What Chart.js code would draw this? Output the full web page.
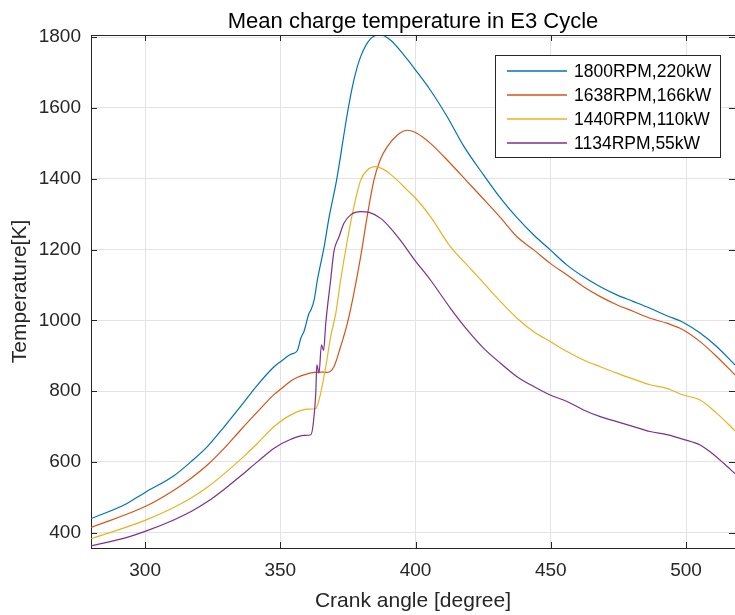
<!DOCTYPE html>
<html>
<head>
<meta charset="utf-8">
<script src="https://cdn.jsdelivr.net/npm/chart.js@4.4.1/dist/chart.umd.min.js"></script>
<style>
  html, body { margin: 0; padding: 0; background: #ffffff; }
  #wrap { width: 735px; height: 615px; }
</style>
</head>
<body>
<div id="wrap"><canvas id="c" width="735" height="615"></canvas></div>
<script>
// ---- Data ----
const chartTitle = 'Mean charge temperature in E3 Cycle';
const xTitle = 'Crank angle [degree]';
const yTitle = 'Temperature[K]';
const seriesLabels = ['1800RPM,220kW', '1638RPM,166kW', '1440RPM,110kW', '1134RPM,55kW'];
const seriesColors = ['#0072BD', '#D95319', '#EDB120', '#7E2F8E'];

const xTickValues = [300, 350, 400, 450, 500];
const yTickValues = [400, 600, 800, 1000, 1200, 1400, 1600, 1800];
const xRange = [280, 518.1];
const yRange = [357, 1806];

const angle1800 = [280,292.4,300,310.8,317,323.1,329.3,335.4,341.6,347.7,350.2,353.9,356.3,357.6,358.8,360.6,361.3,362.5,363.7,366.2,368,370.8,374.8,377.2,379.7,383.4,387.1,390.8,395.7,400,405.5,411.7,417.8,425.2,431.4,437.5,443.7,449.8,456,462.1,468.3,474.4,480.6,486.7,492.9,499,505.2,511.3,518.1];
const temp1800  = [440,479,514,562,601,644,700,758,818,869,884,904,915,950,970,1020,1029,1058,1114,1208,1290,1396,1585,1679,1745,1796,1806,1791,1749,1707,1650,1575,1492,1410,1345,1290,1241,1199,1156,1123,1095,1072,1053,1034,1013,994,964,926,874];

const angle1638 = [280,300,310.8,317,323.1,329.3,335.4,341.6,347.7,350.2,353.9,356,360,362.5,365,367.4,369.8,372.3,374.8,377.2,379.7,382.1,384.6,387,389.5,393.2,396.9,400.6,405.5,412.9,419.1,425.2,431.4,437.5,443.7,449.8,456,462.1,468.3,474.4,480.6,486.7,492.9,499,505.2,511.3,518.1];
const temp1638  = [415,474,521,554,592,639,691,742,791,806,829,838,849,853,854,853,869,926,992,1077,1180,1293,1396,1455,1490,1523,1537,1528,1500,1443,1392,1342,1290,1236,1199,1161,1128,1095,1067,1044,1025,1006,992,973,940,898,846];

const angle1440 = [280,300,310.8,317,323.1,329.3,335.4,341.6,347.7,353.9,360,363.1,364.3,366.8,368.6,370.5,372.3,374.8,377.2,379.7,382.1,385.2,389.5,393.2,396.9,400.6,405.5,412.9,419.1,425.2,431.4,437.5,443.7,449.8,456,462.1,468.3,474.4,480.6,486.7,492.9,499,505.2,511.3,518.1];
const temp1440  = [383,435,472,498,529,567,608,653,700,733,749,751,775,869,954,1020,1114,1227,1321,1396,1424,1434,1420,1396,1368,1340,1293,1208,1156,1105,1053,1006,968,940,912,888,869,851,834,818,808,789,775,738,688];

const angle1134 = [280,292.4,300,310.8,317,323.1,329.3,335.4,341.6,347.7,353.9,358.8,361.3,362.2,363.1,363.5,364.3,365.2,366,366.8,368.6,369.8,371.7,373.5,376,379.7,382.8,387.1,390.8,394.5,399.4,405.5,412.9,419.1,425.2,431.4,437.5,443.7,449.8,456,462.1,468.3,474.4,480.6,486.7,492.9,499,505.2,509,513.8,518.1];
const temp1134  = [363,385,404,437,460,488,523,561,601,639,664,675,677,710,794,874,851,931,915,992,1114,1194,1236,1274,1298,1307,1305,1288,1260,1225,1173,1114,1034,973,921,879,841,813,789,771,747,728,714,700,686,677,664,648,628,597,567];

// ---- Build datasets ----
const angleSets = [angle1800, angle1638, angle1440, angle1134];
const tempSets = [temp1800, temp1638, temp1440, temp1134];
const datasets = seriesLabels.map((label, i) => ({
  label,
  data: angleSets[i].map((a, k) => ({ x: a, y: tempSets[i][k] })),
  borderColor: seriesColors[i],
  backgroundColor: seriesColors[i],
  borderWidth: 1.2,
  pointRadius: 0,
  fill: false,
  cubicInterpolationMode: 'monotone',
  order: 3 - i
}));

const FONT = "'Liberation Sans', Arial, Helvetica, sans-serif";
const AXIS_COLOR = '#262626';

const boxPlugin = {
  id: 'boxAndLegend',
  afterDraw(chart) {
    const { ctx, chartArea: a, scales: { x, y } } = chart;
    ctx.save();
    ctx.strokeStyle = AXIS_COLOR;
    ctx.lineWidth = 1;
    ctx.beginPath();
    ctx.moveTo(a.left, a.top + 0.5);
    ctx.lineTo(a.right, a.top + 0.5);
    xTickValues.forEach(v => {
      const px = Math.round(x.getPixelForValue(v)) + 0.5;
      ctx.moveTo(px, a.bottom); ctx.lineTo(px, a.bottom - 6);
      ctx.moveTo(px, a.top); ctx.lineTo(px, a.top + 6);
    });
    yTickValues.forEach(v => {
      const py = Math.round(y.getPixelForValue(v)) + 0.5;
      ctx.moveTo(a.left, py); ctx.lineTo(a.left + 6, py);
      ctx.moveTo(a.right, py); ctx.lineTo(a.right - 6, py);
    });
    ctx.stroke();

    const lx = 495.5, ly = 55.5, lw = 225, lh = 102;
    ctx.fillStyle = '#ffffff';
    ctx.fillRect(lx, ly, lw, lh);
    ctx.strokeStyle = AXIS_COLOR;
    ctx.strokeRect(lx, ly, lw, lh);
    ctx.font = '17.5px ' + FONT;
    ctx.textBaseline = 'middle';
    ctx.textAlign = 'left';
    seriesLabels.forEach((label, i) => {
      const yy = 71 + i * 24;
      ctx.strokeStyle = seriesColors[i];
      ctx.lineWidth = 1.3;
      ctx.beginPath();
      ctx.moveTo(507, yy); ctx.lineTo(567, yy);
      ctx.stroke();
      ctx.fillStyle = '#000000';
      ctx.fillText(label, 574, yy + 1);
    });
    ctx.restore();
  }
};

new Chart(document.getElementById('c'), {
  type: 'line',
  data: { datasets },
  options: {
    responsive: false,
    devicePixelRatio: 1,
    animation: false,
    layout: { padding: 0 },
    plugins: {
      legend: { display: false },
      tooltip: { enabled: false },
      title: {
        display: true,
        text: chartTitle,
        fullSize: false,
        color: '#000000',
        font: { family: FONT, size: 22, weight: 'normal' },
        padding: { top: 8.4, bottom: 0.2 }
      }
    },
    scales: {
      x: {
        type: 'linear',
        min: xRange[0],
        max: xRange[1],
        afterBuildTicks: s => { s.ticks = xTickValues.map(v => ({ value: v })); },
        afterFit: s => { s.height = 67; },
        grid: { color: '#e3e3e3', lineWidth: 1, drawTicks: false },
        border: { display: true, color: AXIS_COLOR, width: 1 },
        ticks: { color: AXIS_COLOR, font: { family: FONT, size: 19 }, padding: 11, maxRotation: 0, callback: v => String(v) },
        title: { display: true, text: xTitle, color: AXIS_COLOR, font: { family: FONT, size: 21 }, padding: { top: 0, bottom: 1 } }
      },
      y: {
        type: 'linear',
        min: yRange[0],
        max: yRange[1],
        afterBuildTicks: s => { s.ticks = yTickValues.map(v => ({ value: v })); },
        afterFit: s => { s.width = 91; },
        grid: { color: '#e3e3e3', lineWidth: 1, drawTicks: false },
        border: { display: true, color: AXIS_COLOR, width: 1 },
        ticks: { color: AXIS_COLOR, font: { family: FONT, size: 19 }, padding: 10, callback: v => String(v) },
        title: { display: true, text: yTitle, color: AXIS_COLOR, font: { family: FONT, size: 21 }, padding: { top: 8, bottom: 0 } }
      }
    }
  },
  plugins: [boxPlugin]
});
</script>
</body>
</html>
